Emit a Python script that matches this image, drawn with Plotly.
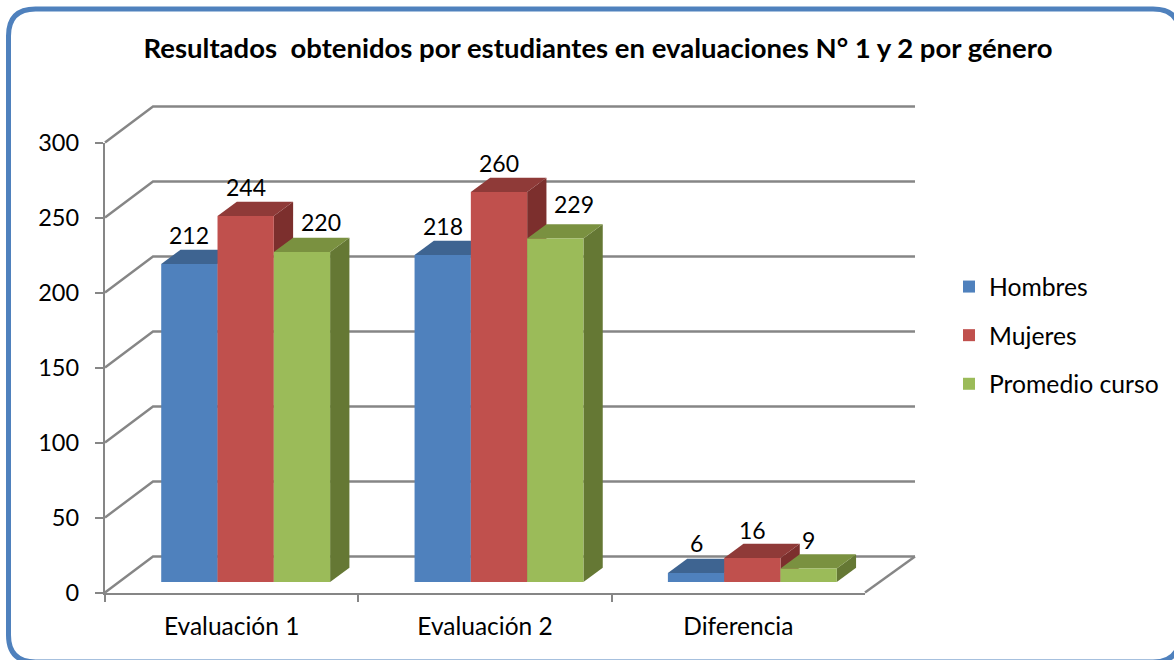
import plotly.graph_objects as go

TITLE = "Resultados  obtenidos por estudiantes en evaluaciones N° 1 y 2 por género"
categories = ["Evaluación 1", "Evaluación 2", "Diferencia"]
series_names = ["Hombres", "Mujeres", "Promedio curso"]
hombres = [212, 218, 6]
mujeres = [244, 260, 16]
promedio = [220, 229, 9]
y_ticks = [0, 50, 100, 150, 200, 250, 300]

series = [hombres, mujeres, promedio]
front_colors = ["#4F81BD", "#C0504D", "#9BBB59"]
top_colors = ["#3E6491", "#8F3A38", "#7A9140"]
side_colors = ["#355880", "#7C2F2D", "#657834"]

W, H = 1174, 660
AX_L, AX_R, AX_B, AX_T = 105, 865, 592.5, 142.5
CAT_PX = (AX_R - AX_L) / len(categories)
UNIT_PX = (AX_B - AX_T) / 300
WALL_DX, WALL_DY = 48 / CAT_PX, 36 / UNIT_PX
BAR_SHIFT_PX_X, BAR_SHIFT_PX_Y = 14, 10.5
BAR_DX, BAR_DY = 19.3 / CAT_PX, 14.3 / UNIT_PX
BAR_W = 2 / 9
GAP = 1 / 6
GRID = "#868686"
FONT = "Lato"

# per-label nudges (px) for the data labels
label_dx = [[0, 0, 19], [0, 0, 19], [0, 0, 0]]
label_dy = [[29, 29, 30], [29, 29, 35], [30, 28, 29]]

fig = go.Figure()

# back wall: gridlines and the diagonals joining them to the value axis
gx, gy = [], []
n = len(categories)
for v in y_ticks:
    gx += [0, WALL_DX, n + 50 / CAT_PX, None]
    gy += [v, v + WALL_DY, v + WALL_DY, None]
gx += [n, n + 50 / CAT_PX, None]
gy += [0, WALL_DY, None]
fig.add_trace(go.Scatter(x=gx, y=gy, mode="lines", line=dict(color=GRID, width=2.4),
                         hoverinfo="skip", showlegend=False, xaxis="x", yaxis="y"))

base_x = BAR_SHIFT_PX_X / CAT_PX
base_y = BAR_SHIFT_PX_Y / UNIT_PX

# depth faces of every bar
for j, vals in enumerate(series):
    for i, v in enumerate(vals):
        l = i + base_x + GAP + j * BAR_W
        r = l + BAR_W
        b = base_y
        t = base_y + v
        fig.add_trace(go.Scatter(
            x=[r, r + BAR_DX, r + BAR_DX, r, r], y=[b, b + BAR_DY, t + BAR_DY, t, b],
            mode="lines", fill="toself", fillcolor=side_colors[j], line=dict(width=0),
            hoverinfo="skip", showlegend=False, xaxis="x", yaxis="y"))
        fig.add_trace(go.Scatter(
            x=[l, l + BAR_DX, r + BAR_DX, r, l], y=[t, t + BAR_DY, t + BAR_DY, t, t],
            mode="lines", fill="toself", fillcolor=top_colors[j], line=dict(width=0),
            hoverinfo="skip", showlegend=False, xaxis="x", yaxis="y"))

# front faces
for j, vals in enumerate(series):
    fig.add_trace(go.Bar(x=categories, y=vals, name=series_names[j], legendgroup=series_names[j],
                         marker=dict(color=front_colors[j], line=dict(width=0)),
                         xaxis="x2", yaxis="y2"))

# visible axes
fig.add_trace(go.Scatter(x=categories, y=[0] * n, mode="markers", marker=dict(opacity=0),
                         hoverinfo="skip", showlegend=False, xaxis="x3", yaxis="y3"))

annotations = []
for j, vals in enumerate(series):
    for i, v in enumerate(vals):
        annotations.append(dict(
            x=i + base_x + GAP + (j + 0.5) * BAR_W, y=base_y + v, xref="x", yref="y",
            text=str(v), showarrow=False, xanchor="center", yanchor="middle",
            xshift=label_dx[i][j], yshift=label_dy[i][j],
            font=dict(family=FONT, size=23, color="#000000")))

# rounded outer frame, in page pixels
fx0, fy0, fx1, fy1, fr = 8.5, 9, 1180, 662, 27
def px(x):
    return x / W
def py(y):
    return 1 - y / H
frame = (f"M {px(fx0)},{py(fy0 + fr)} Q {px(fx0)},{py(fy0)} {px(fx0 + fr)},{py(fy0)} "
         f"L {px(fx1 - fr)},{py(fy0)} Q {px(fx1)},{py(fy0)} {px(fx1)},{py(fy0 + fr)} "
         f"L {px(fx1)},{py(fy1 - fr)} Q {px(fx1)},{py(fy1)} {px(fx1 - fr)},{py(fy1)} "
         f"L {px(fx0 + fr)},{py(fy1)} Q {px(fx0)},{py(fy1)} {px(fx0)},{py(fy1 - fr)} Z")

fig.update_layout(
    width=W, height=H, margin=dict(l=0, r=0, t=0, b=0, autoexpand=False),
    paper_bgcolor="#FFFFFF", plot_bgcolor="rgba(0,0,0,0)",
    font=dict(family=FONT, color="#000000"),
    title=dict(text=TITLE, x=598 / W, xanchor="center", xref="paper", y=1 - 48 / H, yanchor="middle",
               yref="paper", font=dict(family=FONT, size=27.5, color="#000000", weight="bold")),
    barmode="group", bargap=1 / 3, bargroupgap=0,
    showlegend=True,
    legend=dict(x=949 / W, y=1 - 264 / H, xanchor="left", yanchor="top", tracegroupgap=13.5,
                font=dict(family=FONT, size=24.7), bgcolor="rgba(0,0,0,0)"),
    annotations=annotations,
    shapes=[dict(type="path", path=frame, xref="paper", yref="paper", layer="below",
                 line=dict(color="#4F81BD", width=5))],
    xaxis=dict(domain=[0, 1], range=[-AX_L / CAT_PX, (W - AX_L) / CAT_PX], visible=False, fixedrange=True),
    yaxis=dict(domain=[0, 1], range=[-(H - AX_B) / UNIT_PX, AX_B / UNIT_PX], visible=False, fixedrange=True),
    xaxis2=dict(domain=[(AX_L + BAR_SHIFT_PX_X) / W, (AX_R + BAR_SHIFT_PX_X) / W], type="category",
                categoryorder="array", categoryarray=categories, range=[-0.5, n - 0.5],
                visible=False, anchor="y2", fixedrange=True),
    yaxis2=dict(domain=[(H - AX_B + BAR_SHIFT_PX_Y) / H, (H - AX_T + BAR_SHIFT_PX_Y) / H], range=[0, 300],
                visible=False, anchor="x2", fixedrange=True),
    xaxis3=dict(domain=[AX_L / W, AX_R / W], type="category", categoryorder="array",
                categoryarray=categories, range=[-0.5, n - 0.5], anchor="y3",
                showline=True, linecolor=GRID, linewidth=2.4, showgrid=False, zeroline=False,
                tickson="boundaries", ticks="outside", ticklen=7, tickwidth=2, tickcolor=GRID,
                ticklabelstandoff=11, tickfont=dict(family=FONT, size=24.5), fixedrange=True),
    yaxis3=dict(domain=[(H - AX_B) / H, (H - AX_T) / H], range=[0, 300], anchor="x3",
                tickvals=y_ticks, showline=True, linecolor=GRID, linewidth=2.4, showgrid=False,
                zeroline=False, ticks="outside", ticklen=8, tickwidth=2, tickcolor=GRID,
                ticklabelstandoff=11, tickfont=dict(family=FONT, size=23.5), fixedrange=True),
)

fig.write_html("out.html", config={"displayModeBar": False},
               post_script="document.body.style.margin='0';document.body.style.overflow='hidden';")
